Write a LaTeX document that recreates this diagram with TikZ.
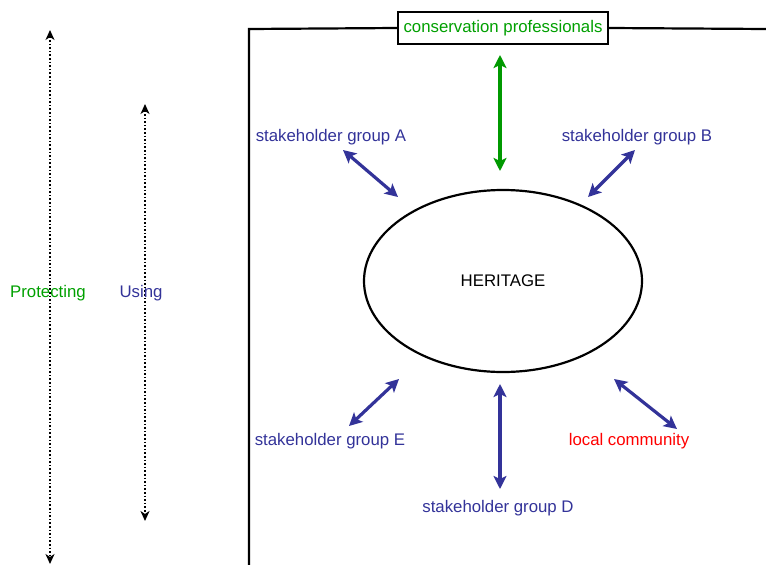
\documentclass[tikz,border=0pt]{standalone}
\usepackage{fontspec}
\setmainfont{Liberation Sans}
\usetikzlibrary{arrows.meta,shapes.geometric}
\definecolor{sblue}{HTML}{333399}
\definecolor{sgreen}{HTML}{009900}
\definecolor{tgreen}{HTML}{00A000}
\begin{document}
\begin{tikzpicture}[x=1pt,y=-1pt,
  every node/.style={font=\fontsize{16.8}{20}\selectfont, inner sep=0pt},
  txt/.style={yshift=-1.5pt},
  lbl/.style={txt, text=sblue},
  link/.style={draw=sblue, line width=3.2pt, {Stealth[length=13pt,width=13pt,inset=3pt]}-{Stealth[length=13pt,width=13pt,inset=3pt]}},
  glink/.style={link, draw=sgreen},
  span/.style={draw=black, line width=1.6pt, dotted, {Stealth[length=10pt,width=9pt,inset=3pt]}-{Stealth[length=10pt,width=9pt,inset=3pt]}}]
\useasboundingbox (0,0) rectangle (766,565);

% axis arrows on the left
\coordinate (p1) at (50,30);  \coordinate (p2) at (50,564);
\coordinate (u1) at (145,104); \coordinate (u2) at (145,521);
\draw[span] (p1) -- (p2);
\draw[span] (u1) -- (u2);
\node[txt, text=tgreen] (prot) at (48,292) {Protecting};
\node[lbl] (using) at (141,292) {Using};

% frame with the professionals box on top
\node[draw, line width=1.8pt, fill=white, minimum width=210pt, minimum height=32pt, text=tgreen] (cons) at (503,28) {conservation professionals};
\coordinate (fb) at (249,566);
\coordinate (fc) at (249,29);
\coordinate (fr) at (767,29);
\draw[line width=2.2pt] (fb) -- (fc) -- (cons.west);
\draw[line width=2.2pt] (cons.east) -- (fr);

% heritage
\node[draw, ellipse, line width=2.2pt, minimum width=278pt, minimum height=182pt] (her) at (503,281) {HERITAGE};

% stakeholders
\node[lbl] (ga) at (331,136) {stakeholder group A};
\node[lbl] (gb) at (637,136) {stakeholder group B};
\node[lbl] (ge) at (330,440) {stakeholder group E};
\node[lbl] (gd) at (498,507) {stakeholder group D};
\node[txt, text=red] (lc) at (629,440) {local community};

% links
\coordinate (a1) at (343,150); \coordinate (a2) at (398,197);
\coordinate (b1) at (635,150); \coordinate (b2) at (588,197);
\coordinate (e1) at (399,379); \coordinate (e2) at (349,426);
\coordinate (d1) at (500,384); \coordinate (d2) at (500,489);
\coordinate (l1) at (614,379); \coordinate (l2) at (677,429);
\coordinate (c1) at (500,55);  \coordinate (c2) at (500,171);
\draw[link] (a1) -- (a2);
\draw[link] (b1) -- (b2);
\draw[link] (e1) -- (e2);
\draw[link] (d1) -- (d2);
\draw[link] (l1) -- (l2);
\draw[glink] (c1) -- (c2);
\end{tikzpicture}
\end{document}
